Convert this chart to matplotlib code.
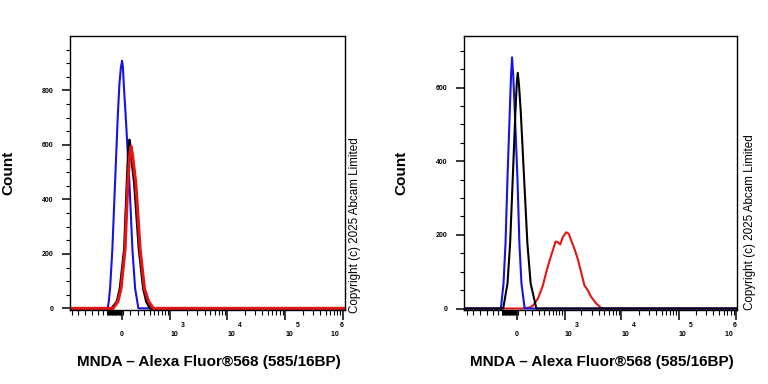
import numpy as np
import matplotlib
matplotlib.use('Agg')
import matplotlib.pyplot as plt
from matplotlib.ticker import FixedLocator

plt.rcParams['font.family'] = ['Liberation Sans', 'DejaVu Sans']

# ---------------- data ----------------
# Left panel
L_blue_x = [-1100, -181, -167, -149, -119, -85, -52, -32, -14, 0, 10, 20, 44, 89, 127, 163, 209, 1000000]
L_blue_y = [0, 0, 25, 73, 218, 461, 703, 824, 885, 909, 885, 824, 703, 461, 218, 73, 0, 0]
L_black_x = [-1100, -127, -60, -24, 28, 60, 78, 89, 105, 153, 219, 287, 340, 409, 1000000]
L_black_y = [0, 0, 25, 73, 218, 461, 580, 618, 580, 461, 218, 73, 25, 0, 0]
L_red_x = [-1100, -110, -50, -12, 36, 69, 95, 110, 130, 172, 235, 304, 380, 480, 1000000]
L_red_y = [0, 0, 25, 73, 218, 461, 570, 594, 560, 461, 218, 73, 25, 0, 0]

# Right panel
R_blue_x = [-1150, -205, -167, -140, -114, -85, -70, -57, -42, -24, 8, 32, 57, 97, 1000000]
R_blue_y = [0, 0, 68, 176, 356, 536, 630, 682, 630, 536, 356, 176, 68, 0, 0]
R_black_x = [-1150, -172, -114, -81, -48, -16, 0, 12, 26, 48, 89, 132, 176, 261, 1000000]
R_black_y = [0, 0, 68, 176, 356, 536, 610, 640, 610, 536, 356, 176, 68, 0, 0]
R_red_x = [-1150, 64, 163, 209, 287, 376, 445, 520, 603, 679, 751, 832, 928, 1069,
           1190, 1314, 1503, 1718, 1972, 2252, 2571, 2949, 3607, 4402, 5022, 1000000]
R_red_y = [0, 0, 3, 8, 27, 63, 99, 131, 158, 182, 180, 174, 194, 207,
           203, 185, 162, 135, 99, 63, 50, 32, 14, 2, 0, 0]

x_major = [0, 1e3, 1e4, 1e5, 1e6]
x_major_labels = ['0', '10', '10', '10', '10']
x_exponents = ['3', '4', '5', '6']
L_y_major = [0, 200, 400, 600, 800]
R_y_major = [0, 200, 400, 600]

xlabel_text = 'MNDA \u2013 Alexa Fluor\u00ae568 (585/16BP)'
ylabel_text = 'Count'
copyright_text = 'Copyright (c) 2025 Abcam Limited'

# ---------------- figure ----------------
W = 300.0
def fwd(x):
    return np.arcsinh(np.asarray(x, dtype=float) / W)
def inv(u):
    return W * np.sinh(np.asarray(u, dtype=float))

fig = plt.figure(figsize=(7.68, 3.84), dpi=100)
axL = fig.add_axes([70/768, 1-310/384, 275/768, 274/384])
axR = fig.add_axes([464/768, 1-310/384, 273/768, 274/384])

minor_x = [-1100, -830, -620, -460, -330, -245] + list(range(-190, 20, 10)) + \
          list(range(100, 1000, 100))
for dec in [1e3, 1e4, 1e5]:
    minor_x += [k * dec for k in range(2, 10)]

def style(ax, xlim, ylim, ymaj, ylim_top):
    ax.set_xscale('function', functions=(fwd, inv))
    ax.set_xlim(*xlim)
    ax.set_ylim(*ylim)
    ax.xaxis.set_major_locator(FixedLocator(x_major))
    labels = list(x_major_labels)
    labels[-1] = labels[-1] + '  '
    ax.set_xticklabels(labels)
    ax.xaxis.set_minor_locator(FixedLocator(minor_x))
    ax.yaxis.set_major_locator(FixedLocator(ymaj))
    ax.yaxis.set_minor_locator(FixedLocator(list(range(50, int(ylim_top), 50))))
    ax.set_yticklabels([str(v) for v in ymaj])
    ax.tick_params(axis='x', which='major', length=7, width=1.1, direction='out',
                   labelsize=5, pad=12)
    ax.tick_params(axis='x', which='minor', length=3.5, width=0.8, direction='out')
    ax.tick_params(axis='y', which='major', length=6, width=1.1, direction='out',
                   labelsize=5, pad=6)
    ax.tick_params(axis='y', which='minor', length=3, width=0.8, direction='out')
    xlabs = ax.get_xticklabels()
    for i, lab in enumerate(xlabs):
        lab.set_fontweight('bold')
        lab.set_va('baseline')
        if i == len(xlabs) - 1:
            lab.set_ha('right')
        elif i > 0:
            lab.set_ha('left')
    for lab in ax.get_yticklabels():
        lab.set_fontweight('bold')
    for i, (xv, e) in enumerate(zip(x_major[1:], x_exponents)):
        dx = -2.2 if i == len(x_exponents) - 1 else 7.5
        ax.annotate(e, xy=(xv, 0), xycoords=('data', 'axes fraction'),
                    xytext=(dx, -12.2), textcoords='offset points',
                    ha='left', va='baseline', fontsize=5, fontweight='bold',
                    annotation_clip=False)
    for sp in ax.spines.values():
        sp.set_linewidth(1.0)
        sp.set_color('black')

# Left panel
axL.plot(L_blue_x, L_blue_y, color='#1414e6', lw=1.5)
axL.plot(L_black_x, L_black_y, color='black', lw=2.0)
axL.plot(L_red_x, L_red_y, color='#e61414', lw=2.2)
style(axL, (-1176, 1.08e6), (-6, 1000), L_y_major, 1000)

# Right panel
axR.plot(R_red_x, R_red_y, color='#e61414', lw=1.5)
axR.plot(R_blue_x, R_blue_y, color='#1414e6', lw=1.5)
axR.plot(R_black_x, R_black_y, color='black', lw=1.5)
style(axR, (-1227, 1.03e6), (-4, 740), R_y_major, 740)

# Texts
for xc in [8/768, 401/768]:
    fig.text(xc, 1-173/384, ylabel_text, rotation=90, ha='center', va='center',
             fontsize=11, fontweight='bold')
for xc in [209/768, 602/768]:
    fig.text(xc, 1-362/384, xlabel_text, ha='center', va='center',
             fontsize=11, fontweight='bold')
fig.text(355/768, 1-313/384, copyright_text, rotation=90, ha='center', va='bottom',
         fontsize=8.4)
fig.text(750/768, 1-310/384, copyright_text, rotation=90, ha='center', va='bottom',
         fontsize=8.4)

fig.savefig('out.png', dpi=100)
